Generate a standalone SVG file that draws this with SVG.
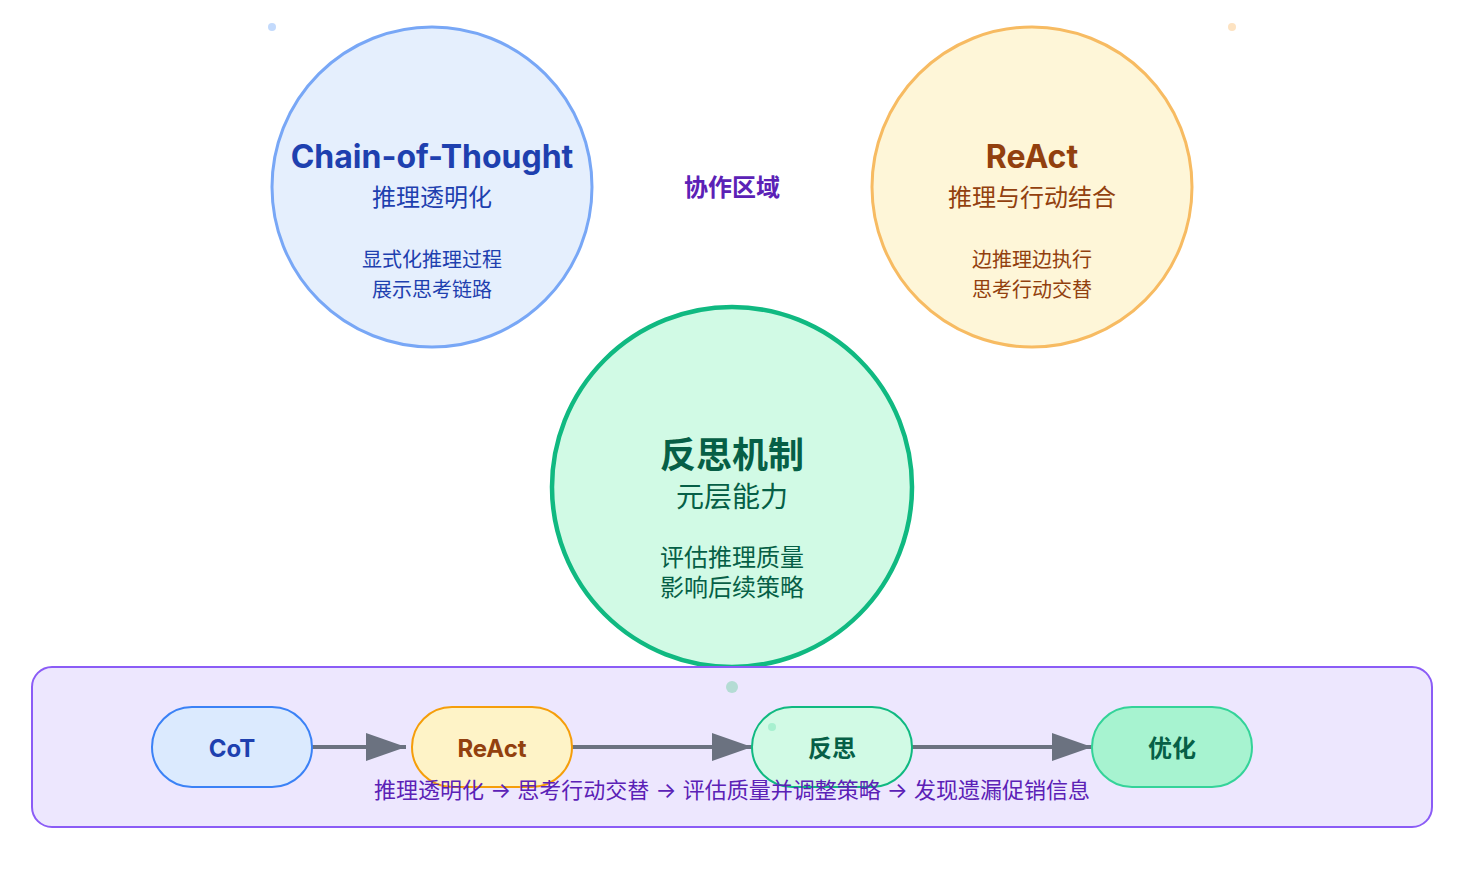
<svg xmlns="http://www.w3.org/2000/svg" width="1466" height="872" viewBox="0 0 1466 872">
<defs>
<style>
text{font-family:Inter,"Noto Sans CJK SC",sans-serif;text-anchor:middle}
.t-title{font-size:32px;font-weight:700}
.t-sub{font-size:24px}
.t-det{font-size:20px}
.pill-t{font-size:24px;font-weight:700}
.conn{stroke:#6b7280;stroke-width:4;fill:none}
</style>
<marker id="arr" markerWidth="10" markerHeight="7" refX="10" refY="3.5" orient="auto" markerUnits="strokeWidth">
<polygon points="0 0,10 3.5,0 7" fill="#6b7280"/>
</marker>
</defs>
<rect width="1466" height="872" fill="#ffffff"/>
<circle cx="272" cy="27" r="4" fill="#c3dafc"/>
<circle cx="1232" cy="27" r="4" fill="#fde3c2"/>
<g id="node-cot">
<circle cx="432" cy="187" r="160" fill="#e5effd" stroke="#78a7f6" stroke-width="3"/>
<text class="t-title" x="432" y="168" fill="#1e40af">Chain-of-Thought</text>
<text class="t-sub" x="432" y="206" fill="#1e40af">推理透明化</text>
<text class="t-det" x="432" y="267" fill="#1e40af">显式化推理过程</text>
<text class="t-det" x="432" y="297" fill="#1e40af">展示思考链路</text>
</g>
<g id="node-react">
<circle cx="1032" cy="187" r="160" fill="#fef6d8" stroke="#f7bb62" stroke-width="3"/>
<text class="t-title" x="1032" y="168" fill="#92400e">ReAct</text>
<text class="t-sub" x="1032" y="206" fill="#92400e">推理与行动结合</text>
<text class="t-det" x="1032" y="267" fill="#92400e">边推理边执行</text>
<text class="t-det" x="1032" y="297" fill="#92400e">思考行动交替</text>
</g>
<g id="label-collab">
<text x="732" y="196" font-size="24" font-weight="700" fill="#5b21b6">协作区域</text>
</g>
<g id="node-reflect">
<circle cx="732" cy="487" r="180" fill="#d1fae5" stroke="#10b981" stroke-width="4.5"/>
<text x="732" y="468" font-size="36" font-weight="700" fill="#065f46">反思机制</text>
<text x="732" y="507" font-size="28" fill="#065f46">元层能力</text>
<text x="732" y="566" font-size="24" fill="#065f46">评估推理质量</text>
<text x="732" y="596" font-size="24" fill="#065f46">影响后续策略</text>
</g>
<g id="panel">
<rect x="32" y="667" width="1400" height="160" rx="20" fill="#ede7fe" stroke="#8b5cf6" stroke-width="2"/>
</g>
<circle cx="732" cy="687" r="6" fill="#b4dcd4"/>
<g id="connectors">
<line class="conn" x1="312" y1="747" x2="406" y2="747" marker-end="url(#arr)"/>
<line class="conn" x1="572" y1="747" x2="752" y2="747" marker-end="url(#arr)"/>
<line class="conn" x1="912" y1="747" x2="1092" y2="747" marker-end="url(#arr)"/>
</g>
<g id="pill-cot">
<rect x="152" y="707" width="160" height="80" rx="40" fill="#dbeafe" stroke="#3b82f6" stroke-width="2"/>
<text class="pill-t" x="232" y="757" fill="#1e40af">CoT</text>
</g>
<g id="pill-react">
<rect x="412" y="707" width="160" height="80" rx="40" fill="#fef3c7" stroke="#f59e0b" stroke-width="2"/>
<text class="pill-t" x="492" y="757" fill="#92400e">ReAct</text>
</g>
<g id="pill-reflect">
<rect x="752" y="707" width="160" height="80" rx="40" fill="#d1fae5" stroke="#10b981" stroke-width="2"/>
<text class="pill-t" x="832" y="757" fill="#065f46">反思</text>
</g>
<g id="pill-opt">
<rect x="1092" y="707" width="160" height="80" rx="40" fill="#a7f3d0" stroke="#34d399" stroke-width="2"/>
<text class="pill-t" x="1172" y="757" fill="#065f46">优化</text>
</g>
<circle cx="772" cy="727" r="4" fill="#a7f0cf"/>
<g id="caption">
<text x="732" y="798" font-size="22" fill="#5b21b6">推理透明化 → 思考行动交替 → 评估质量并调整策略 → 发现遗漏促销信息</text>
</g>
</svg>
